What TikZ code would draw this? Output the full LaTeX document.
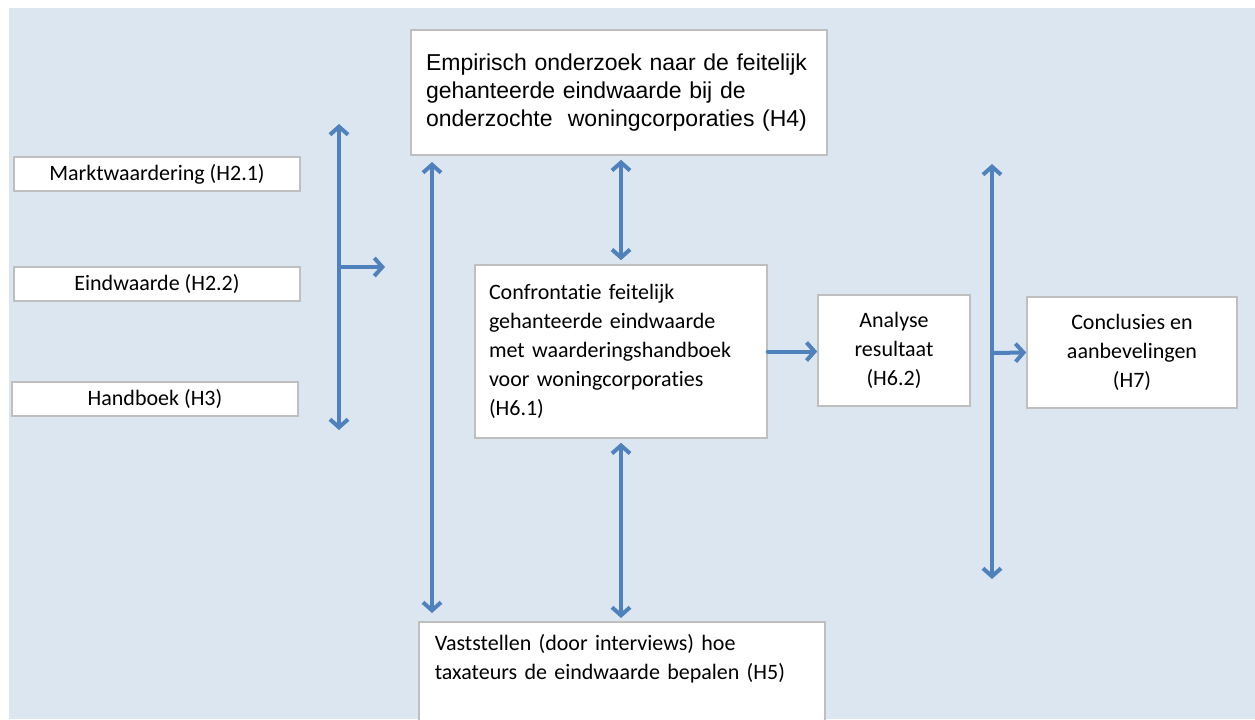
\documentclass[tikz,border=0pt]{standalone}
\usepackage{fontspec}
\setmainfont{Carlito}[Ligatures=NoCommon]
\newfontfamily\arialfont{Liberation Sans}
\usepackage{xcolor}
\usetikzlibrary{positioning, arrows.meta}
\definecolor{bgblue}{HTML}{DCE6F1}
\definecolor{arrowblue}{HTML}{4F81BD}
\definecolor{boxgray}{HTML}{BFBFBF}

\begin{document}
\begin{tikzpicture}[x=0.5pt, y=-0.5pt, >={Straight Barb[length=4pt, width=9pt]},
      chapter/.style={draw=boxgray, line width=0.8pt, fill=white, align=center, inner sep=0pt, font=\fontsize{11}{14.5}\selectfont},
      study/.style={chapter, align=left},
      link/.style={arrowblue, line width=2pt, line cap=round}]

    \useasboundingbox (0,0) rectangle (1255,719);
    \fill[white] (0,0) rectangle (1255,719);
    \fill[bgblue] (9,8) rectangle (1255,719);

    % theory chapters
    \node[chapter, minimum width=143pt, minimum height=17pt] (markt) at (157,174) {Marktwaardering (H2.1)};
    \node[chapter, minimum width=143pt, minimum height=17pt] (eind) at (157,284) {Eindwaarde (H2.2)};
    \node[chapter, minimum width=143pt, minimum height=17pt] (handboek) at (155,399) {Handboek (H3)};

    % empirical part
    \node[study, minimum width=208pt, minimum height=62.5pt, text width=193pt, font=\arialfont\fontsize{11.5}{14}\selectfont] (empirie) at (619,92.5)
      {Empirisch onderzoek naar de feitelijk\\gehanteerde eindwaarde bij de\\onderzochte\ \ woningcorporaties (H4)};
    \node[study, minimum width=146pt, minimum height=86.5pt, text width=132pt] (confront) at (621,351.5)
      {Confrontatie feitelijk\\gehanteerde eindwaarde\\met waarderingshandboek\\voor woningcorporaties\\(H6.1)};
    \draw[draw=boxgray, line width=0.8pt, fill=white] (419,622) rectangle (825,760);
    \node[study, draw=none, fill=none, anchor=north west, minimum width=203pt, text width=188pt, inner ysep=6pt] (interview) at (419,622)
      {Vaststellen (door interviews) hoe\\taxateurs de eindwaarde bepalen (H5)};

    % results
    \node[chapter, minimum width=76pt, minimum height=55.5pt] (analyse) at (894,350.5) {Analyse\\resultaat\\(H6.2)};
    \node[chapter, minimum width=105pt, minimum height=55.5pt] (conclusie) at (1132,352.5) {Conclusies en\\aanbevelingen\\(H7)};

    % connector ends
    \coordinate (lefttop) at (339,124);
    \coordinate (leftbot) at (339,430);
    \coordinate (leftjoin) at (339,267);
    \coordinate (leftout) at (385,267);
    \coordinate (midtop) at (432,162);
    \coordinate (midbot) at (432,613);
    \coordinate (righttop) at (992,164);
    \coordinate (rightbot) at (992,579);
    \coordinate (rightjoin) at (992,353);

    \draw[link, <->] (lefttop) -- (leftbot);
    \draw[link, ->] (leftjoin) -- (leftout);
    \draw[link, <->] (midtop) -- (midbot);
    \draw[link, <->, shorten <=2pt, shorten >=2pt] (confront.north |- empirie.south) -- (confront.north);
    \draw[link, <->, shorten <=2pt, shorten >=2pt] (confront.south) -- (confront.south |- interview.north);
    \draw[link, ->] (confront.east) -- (confront.east -| analyse.west);
    \draw[link, <->] (righttop) -- (rightbot);
    \draw[link, ->] (rightjoin) -- (conclusie.west);
\end{tikzpicture}
\end{document}
